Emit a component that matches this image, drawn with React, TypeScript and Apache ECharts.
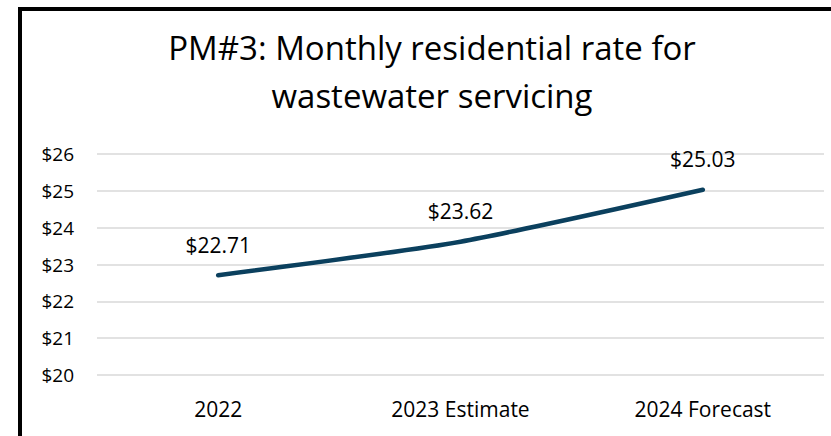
import React, { useEffect, useRef } from "react";
import * as echarts from "echarts";

const categories = ["2022", "2023 Estimate", "2024 Forecast"];
const rates = [22.71, 23.62, 25.03];
const titleLines = ["PM#3: Monthly residential rate for", "wastewater servicing"];

const FONT = "'Open Sans', Lato, sans-serif";

export default function App() {
  const ref = useRef<HTMLDivElement>(null);
  useEffect(() => {
    if (!ref.current) return;
    const chart = echarts.init(ref.current, null, { renderer: "svg" });
    chart.setOption({
      animation: false,
      backgroundColor: "#ffffff",
      graphic: [
        {
          type: "rect",
          shape: { x: 20, y: 9, width: 900, height: 600 },
          style: { fill: "none", stroke: "#000000", lineWidth: 4 },
          z: 10,
        },
        {
          type: "text",
          x: 432,
          y: 47,
          style: {
            text: titleLines[0],
            font: `33px ${FONT}`,
            fill: "#000000",
            textAlign: "center",
            textVerticalAlign: "middle",
          },
        },
        {
          type: "text",
          x: 432,
          y: 95,
          style: {
            text: titleLines[1],
            font: `33px ${FONT}`,
            fill: "#000000",
            textAlign: "center",
            textVerticalAlign: "middle",
          },
        },
      ],
      grid: { left: 97, right: 7, top: 154, bottom: 61, containLabel: false },
      xAxis: {
        type: "category",
        data: categories,
        boundaryGap: true,
        axisLine: { show: false },
        axisTick: { show: false },
        axisLabel: {
          color: "#000000",
          fontFamily: FONT,
          fontSize: 21,
          margin: 23,
        },
      },
      yAxis: {
        type: "value",
        min: 20,
        max: 26,
        interval: 1,
        axisLine: { show: false },
        axisTick: { show: false },
        splitLine: { lineStyle: { color: "#d9d9d9", width: 1.5 } },
        axisLabel: {
          color: "#000000",
          fontFamily: FONT,
          fontSize: 19,
          margin: 23,
          formatter: (v: number) => "$" + v,
        },
      },
      series: [
        {
          type: "line",
          data: rates,
          smooth: 0.2,
          symbol: "circle",
          symbolSize: 2,
          showSymbol: true,
          itemStyle: { color: "rgba(0,0,0,0)", borderWidth: 0 },
          lineStyle: { color: "#0b405e", width: 4.5, cap: "round" },
          label: {
            show: true,
            position: "top",
            distance: 19,
            color: "#000000",
            fontFamily: FONT,
            fontSize: 21,
            formatter: (p: any) => "$" + p.value.toFixed(2),
          },
        },
      ],
    });
    return () => chart.dispose();
  }, []);
  return (
    <div
      ref={ref}
      style={{ position: "fixed", left: 0, top: 0, width: 831, height: 436, background: "#fff" }}
    />
  );
}
